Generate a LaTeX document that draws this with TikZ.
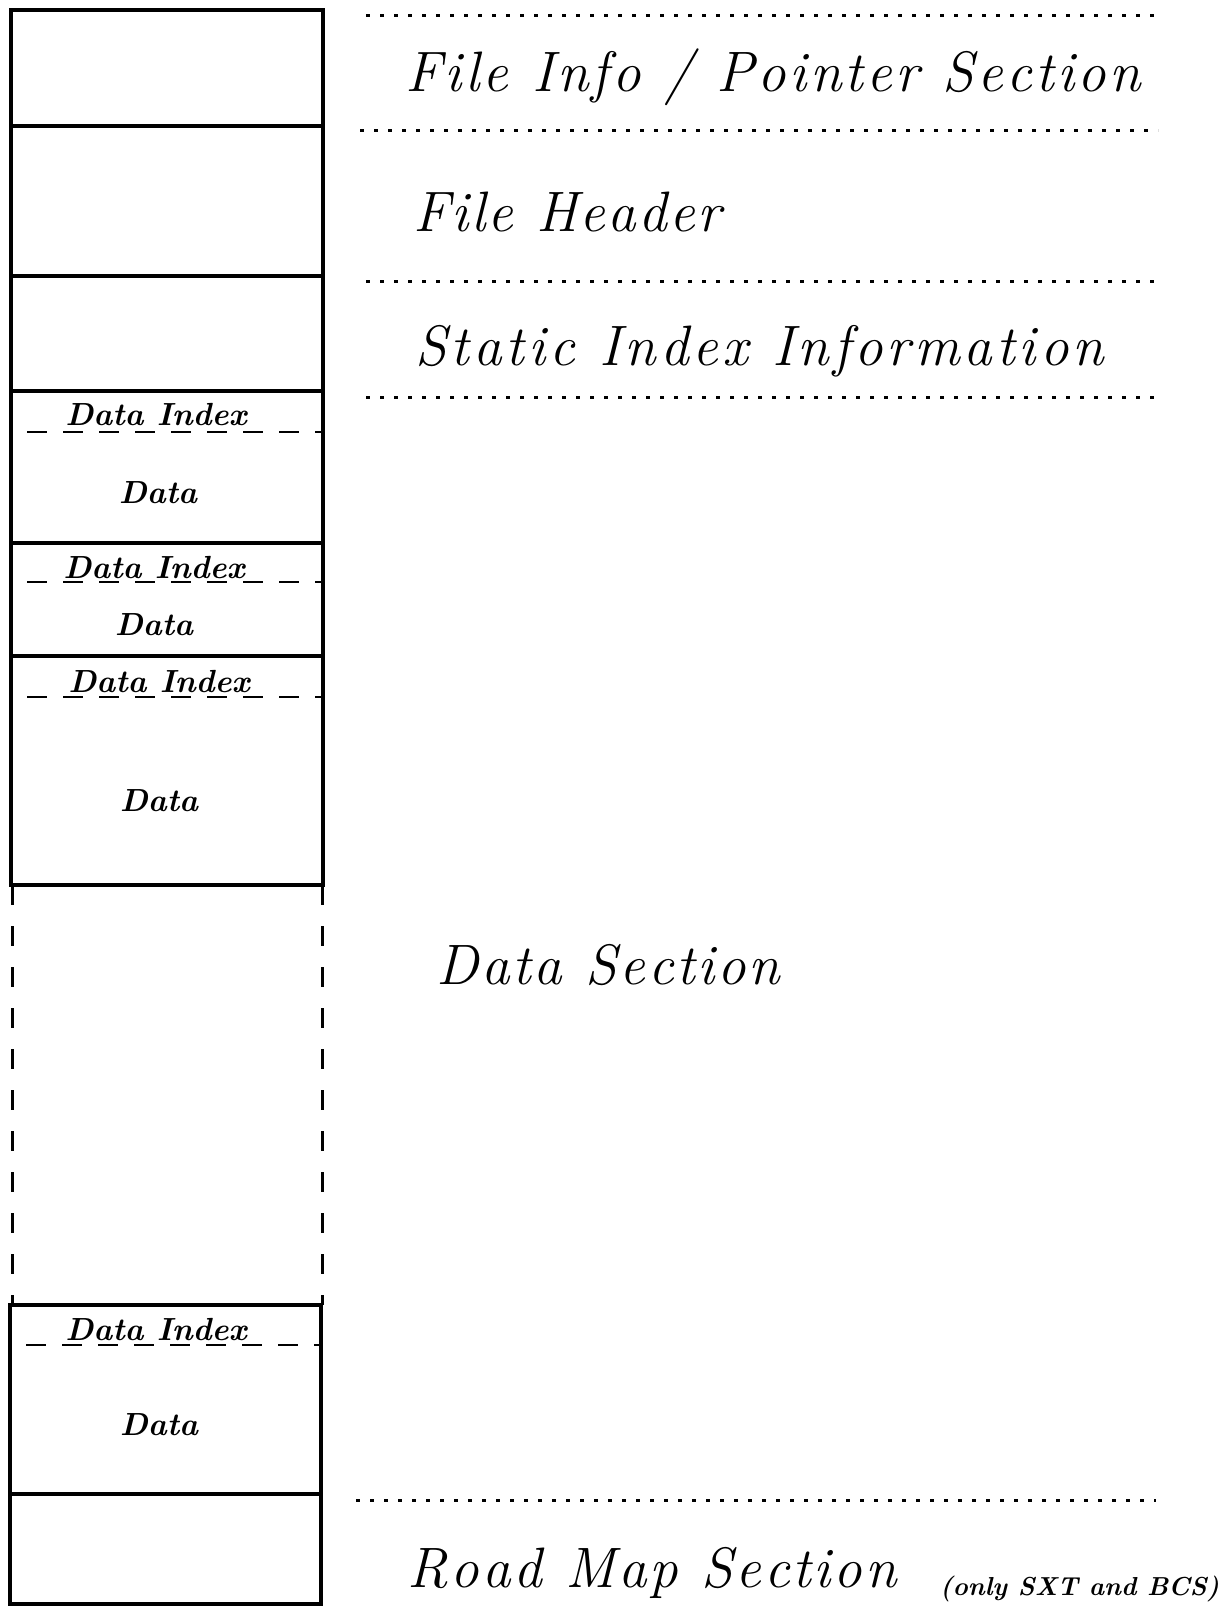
\documentclass[tikz,border=0pt]{standalone}
\usepackage{fontspec}
\newdimen\lsk
\newdimen\lsw
\def\lsstop{LSSTOP}
\def\lsword#1{\lswordA#1\lsstop}
\def\lswordA#1{\ifx#1\lsstop\else#1\kern\lsk\expandafter\lswordA\fi}
\def\lsphrase#1{\lsphraseA#1 \lsend}
\def\lsphraseA#1 #2\lsend{\lsword{#1}\ifx\relax#2\relax\else\hskip\lsw\lsphraseA#2\lsend\fi}
\begin{document}
\begin{tikzpicture}[x=1pt,y=-1pt,
  col/.style={line width=4.5pt},
  sidedash/.style={line width=3pt, dash pattern=on 20pt off 21pt},
  idxline/.style={line width=2.5pt, dash pattern=on 20pt off 16pt, dash phase=20pt},
  dotline/.style={line width=3pt, dash pattern=on 4pt off 10pt},
  biglbl/.style={anchor=base west, inner sep=0pt, font=\fontsize{57}{60}\selectfont\itshape},
  idxlbl/.style={anchor=base, inner sep=0pt, font=\fontsize{32}{34}\selectfont\bfseries\itshape},
  datalbl/.style={anchor=center, inner sep=0pt, font=\fontsize{32}{34}\selectfont\bfseries\itshape},
  notelbl/.style={anchor=base west, inner sep=0pt, font=\fontsize{26}{28}\selectfont\bfseries\itshape}
]
\useasboundingbox (0,0) rectangle (1225,1608);

% column, upper solid part
\draw[col] (11,10) rectangle (323,885);
\foreach \yy in {126,276,391,543,656} \draw[col] (11,\yy) -- (323,\yy);
% dashed sides of the open part
\draw[sidedash] (12,885) -- (12,1305);
\draw[sidedash] (322,885) -- (322,1305);
% column, lower solid part
\draw[col] (10,1305) rectangle (321,1604);
\draw[col] (10,1494) -- (321,1494);

% data index dashed separators
\draw[idxline] (11,432) -- (323,432);
\draw[idxline] (11,582) -- (323,582);
\draw[idxline] (11,697) -- (323,697);
\draw[idxline] (10,1345) -- (321,1345);

% labels inside the column
\node[idxlbl] (di1) at (156,425) {Data Index};
\node[datalbl] (d1) at (158,493) {Data};
\node[idxlbl] (di2) at (154,578) {Data Index};
\node[datalbl] (d2) at (154,625) {Data};
\node[idxlbl] (di3) at (159,692) {Data Index};
\node[datalbl] (d3) at (159,801) {Data};
\node[idxlbl] (di4) at (156,1340) {Data Index};
\node[datalbl] (d4) at (159,1425) {Data};

% dotted section separators
\draw[dotline] (366,16) -- (1158,16);
\draw[dotline] (360,131) -- (1158,131);
\draw[dotline] (366,281) -- (1158,281);
\draw[dotline] (366,397) -- (1158,397);
\draw[dotline] (356,1500) -- (1156,1500);

% section names
\node[biglbl] (s1) at (405,92) {\lsk=0.058em\lsw=0.36em\lsphrase{File Info / Pointer Section}};
\node[biglbl] (s2) at (413,231) {\lsk=0.040em\lsw=0.36em\lsphrase{File Header}};
\node[biglbl] (s3) at (415,365) {\lsk=0.070em\lsw=0.36em\lsphrase{Static Index Information}};
\node[biglbl] (s4) at (436,984) {\lsk=0.049em\lsw=0.36em\lsphrase{Data Section}};
\node[biglbl] (s5) at (407,1587) {\lsk=0.050em\lsw=0.36em\lsphrase{Road Map Section}};
\node[notelbl] (n5) at (940,1595) {(only SXT and BCS)};
\end{tikzpicture}
\end{document}
